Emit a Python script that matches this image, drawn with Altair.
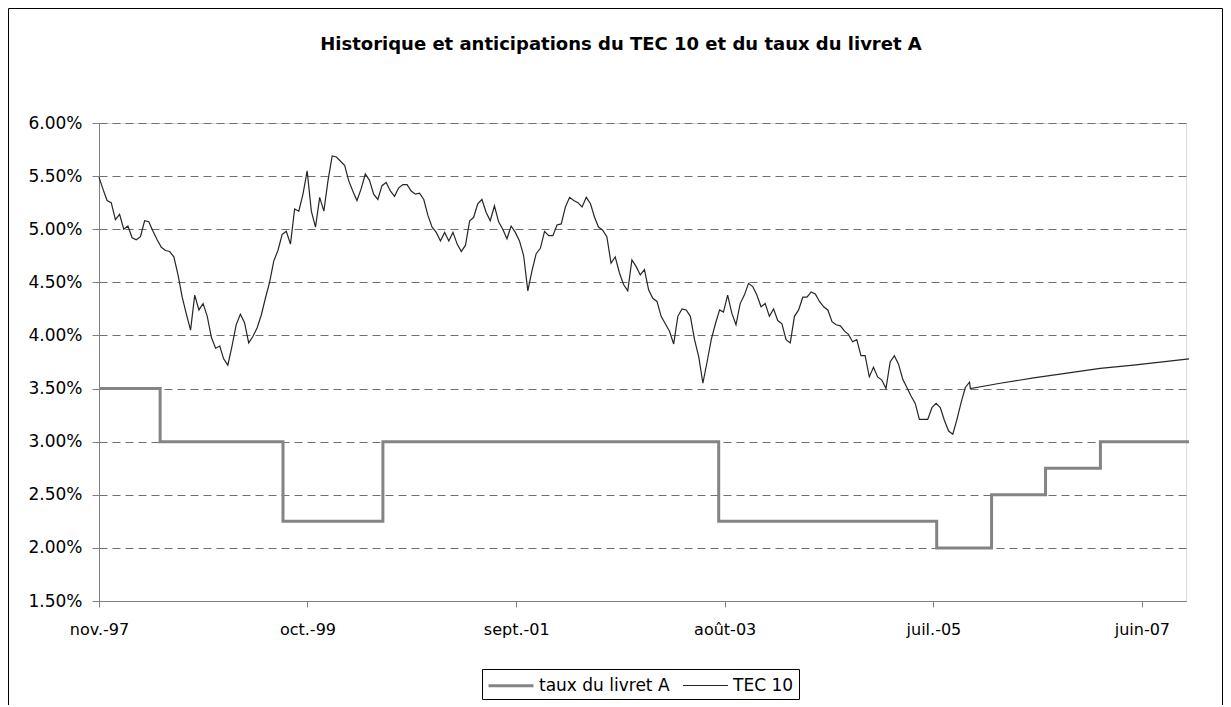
import altair as alt
import pandas as pd

# ---------------- data ----------------
SERIES = ["taux du livret A", "TEC 10"]
COLORS = ["#848484", "#262626"]
WIDTHS = [3, 1.2]

# TEC 10 history, regularly spaced observations between these two dates (values in %)
TEC_START = "1997-11-22"
TEC_END = "2005-11-19"
tec_hist = [
    5.49, 5.38, 5.27, 5.25, 5.09, 5.14, 5.00, 5.03, 4.92, 4.90, 4.93, 5.08, 5.07, 4.98, 4.90, 4.83,
    4.80, 4.79, 4.74, 4.57, 4.36, 4.20, 4.05, 4.38, 4.24, 4.30, 4.18, 3.98, 3.88, 3.90, 3.78, 3.72,
    3.90, 4.10, 4.20, 4.12,
    3.93, 3.99, 4.07, 4.19, 4.35, 4.50, 4.70, 4.80, 4.95, 4.98, 4.86, 5.19, 5.17, 5.33, 5.55, 5.17,
    5.02, 5.30, 5.17, 5.46, 5.69, 5.68, 5.64, 5.60, 5.46, 5.36, 5.27, 5.38, 5.52, 5.46, 5.33, 5.28,
    5.41, 5.44,
    5.36, 5.31, 5.39, 5.42, 5.42, 5.36, 5.33, 5.34, 5.28, 5.13, 5.02, 4.97, 4.89, 4.97, 4.89, 4.97,
    4.86, 4.79, 4.85, 5.08, 5.11, 5.24, 5.28, 5.16, 5.08, 5.22, 5.07, 5.00, 4.91, 5.03, 4.97, 4.89,
    4.75, 4.42, 4.61,
    4.77, 4.82, 4.98, 4.94, 4.94, 5.04, 5.05, 5.21, 5.30, 5.27, 5.25, 5.21, 5.30, 5.24, 5.11, 5.02,
    4.99, 4.93, 4.68, 4.74, 4.59, 4.48, 4.42, 4.71, 4.65, 4.57, 4.62, 4.43, 4.35, 4.32, 4.18, 4.11,
    4.04, 3.92, 4.18,
    4.25, 4.24, 4.18, 3.96, 3.80, 3.55, 3.75, 3.96, 4.11, 4.24, 4.22, 4.38, 4.21, 4.10, 4.30, 4.38,
    4.49, 4.46, 4.38, 4.27, 4.30, 4.18, 4.25, 4.14, 4.11, 3.96, 3.93, 4.18, 4.24, 4.36, 4.36, 4.41,
    4.39, 4.32, 4.27,
    4.24, 4.13, 4.10, 4.09, 4.04, 4.01, 3.94, 3.96, 3.81, 3.81, 3.61, 3.70, 3.61, 3.58, 3.50, 3.75,
    3.81, 3.73, 3.59, 3.51, 3.43, 3.36, 3.21, 3.21, 3.21, 3.32, 3.36, 3.32, 3.20, 3.10, 3.07, 3.21,
    3.37, 3.51, 3.56,
]

# TEC 10 anticipations (forward curve)
fwd_dates = ["2005-11-22", "2006-03-02", "2006-06-22", "2006-10-12", "2007-01-31",
             "2007-05-23", "2007-09-12", "2007-11-25"]
fwd_vals = [3.50, 3.55, 3.60, 3.645, 3.69, 3.72, 3.755, 3.78]

# Livret A rate (step changes)
livret_dates = ["1997-11-22", "1998-06-15", "1999-08-01", "2000-07-01", "2003-08-01",
                "2005-08-01", "2006-02-01", "2006-08-01", "2007-02-01", "2007-11-25"]
livret_vals = [3.50, 3.00, 2.25, 3.00, 2.25, 2.00, 2.50, 2.75, 3.00, 3.00]

# axes
x_domain = ["1997-11-22", "2007-11-15"]
x_ticks = ["1997-11-22", "1999-10-22", "2001-09-21", "2003-08-21", "2005-07-21", "2007-06-20"]
month_labels = ["janv.", "févr.", "mars", "avr.", "mai", "juin", "juil.", "août", "sept.",
                "oct.", "nov.", "déc."]
y_ticks = [1.5, 2.0, 2.5, 3.0, 3.5, 4.0, 4.5, 5.0, 5.5, 6.0]

TITLE = "Historique et anticipations du TEC 10 et du taux du livret A"

# ---------------- build tables ----------------
hist_dates = pd.date_range(TEC_START, TEC_END, periods=len(tec_hist)).strftime("%Y-%m-%d").tolist()
df_tec = pd.DataFrame({
    "date": hist_dates + fwd_dates,
    "value": tec_hist + fwd_vals,
    "series": SERIES[1],
})
df_livret = pd.DataFrame({"date": livret_dates, "value": livret_vals, "series": SERIES[0]})


def dt(s):
    t = pd.Timestamp(s)
    return alt.DateTime(year=t.year, month=t.month, date=t.day, utc=True)


FONT = "DejaVu Sans"
label_expr_x = ("[" + ",".join("'" + m + "'" for m in month_labels) + "][utcmonth(datum.value)]"
                " + '-' + utcFormat(datum.value, '%y')")

x_enc = alt.X(
    "date:T",
    scale=alt.Scale(type="utc", domain=[dt(d) for d in x_domain]),
    axis=alt.Axis(values=[dt(d) for d in x_ticks], labelExpr=label_expr_x, grid=False,
                  title=None, tickSize=6, labelPadding=14, labelFont=FONT, labelFontSize=16,
                  labelColor="black", domainColor="#808080", tickColor="#808080",
                  labelFlush=False, labelOverlap=False),
)
y_enc = alt.Y(
    "value:Q",
    scale=alt.Scale(domain=[y_ticks[0], y_ticks[-1]], nice=False, zero=False),
    axis=alt.Axis(values=y_ticks, labelExpr="format(datum.value, '.2f') + '%'", grid=True,
                  gridDash=[8, 5], gridColor="#707070", gridWidth=1, title=None, tickSize=7,
                  labelPadding=10, labelFont=FONT, labelFontSize=17, labelColor="black",
                  domainColor="#808080", tickColor="#808080"),
)

legend = alt.Legend(title=None, orient="none", legendX=383, legendY=546, direction="horizontal",
                    symbolType="M-1,0H3.5", symbolSize=400, labelFont=FONT, labelFontSize=17,
                    labelColor="black", strokeColor="black", fillColor="white", padding=5,
                    columnPadding=10, labelOffset=29)
color_enc = alt.Color("series:N", scale=alt.Scale(domain=SERIES, range=COLORS), legend=legend)
width_enc = alt.StrokeWidth("series:N", scale=alt.Scale(domain=SERIES, range=WIDTHS), legend=legend)

livret = alt.Chart(df_livret).mark_line(interpolate="step-after", clip=False).encode(
    x=x_enc, y=y_enc, color=color_enc, strokeWidth=width_enc)
tec = alt.Chart(df_tec).mark_line(clip=False).encode(
    x=x_enc, y=y_enc, color=color_enc, strokeWidth=width_enc)

frame = alt.Chart(pd.DataFrame({"f": [0]})).mark_rect(filled=False, stroke="black", strokeWidth=1,
                                                      clip=False).encode(
    x=alt.value(-90.5), x2=alt.value(1123.5), y=alt.value(-114.5), y2=alt.value(640))

title = alt.Chart(pd.DataFrame({"t": [TITLE]})).mark_text(
    font=FONT, fontSize=18, fontWeight="bold", color="black", align="center", baseline="middle"
).encode(text="t:N", x=alt.value(522), y=alt.value(-78))

chart = alt.layer(frame, title, livret, tec).properties(
    width=1087, height=478,
    autosize=alt.AutoSizeParams(type="none"),
    padding={"left": 91, "top": 115, "right": 37, "bottom": 104},
).configure_view(stroke="#808080", strokeWidth=1).configure(background="white")

chart.save("out.html", embed_options={"renderer": "svg", "actions": False})
